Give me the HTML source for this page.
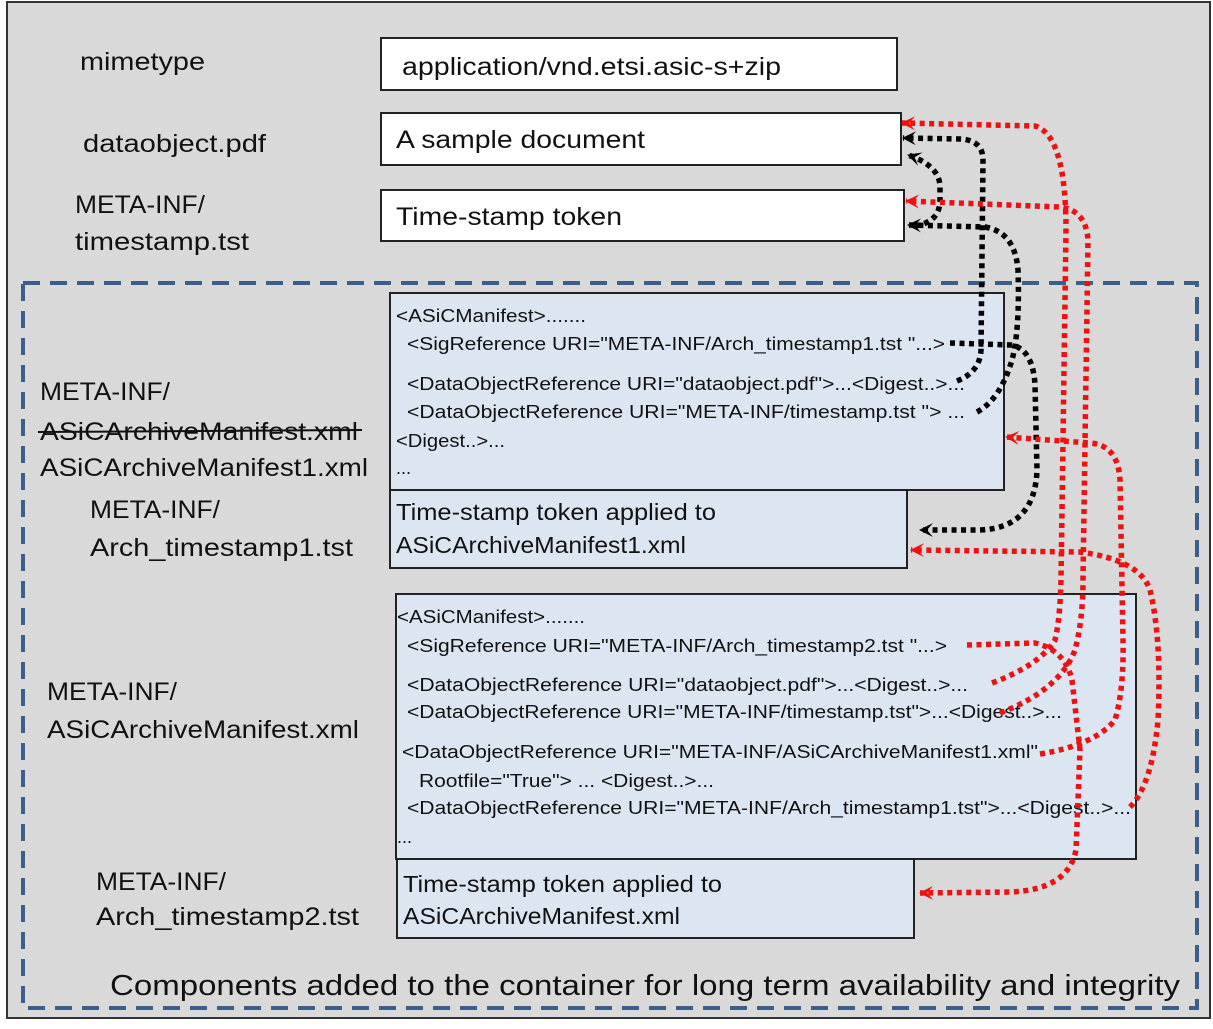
<!DOCTYPE html>
<html><head><meta charset="utf-8"><style>
html,body{margin:0;padding:0;background:#fff;}
svg{display:block;}
text{font-family:"Liberation Sans",sans-serif;fill:#111;}
.big{font-size:25px;}
.mid{font-size:23px;}
.sm{font-size:18px;}
.rd{fill:none;stroke:#ee1111;stroke-width:5.5;stroke-dasharray:5 4.5;}
.bk{fill:none;stroke:#000;stroke-width:5.5;stroke-dasharray:5 4.5;}
</style></head><body>
<svg width="1213" height="1029" viewBox="0 0 1213 1029" xmlns="http://www.w3.org/2000/svg">
<defs>
<marker id="ar" markerWidth="16" markerHeight="16" refX="14" refY="8" orient="auto" markerUnits="userSpaceOnUse" viewBox="0 0 16 16"><path d="M1,1 L15,8 L1,15 L7,8 Z" fill="#ee1111"/></marker>
<marker id="ab" markerWidth="16" markerHeight="16" refX="14" refY="8" orient="auto" markerUnits="userSpaceOnUse" viewBox="0 0 16 16"><path d="M1,1 L15,8 L1,15 L7,8 Z" fill="#000"/></marker>
</defs>
<rect x="0" y="0" width="1213" height="1029" fill="#fff"/>
<rect x="7" y="2" width="1203" height="1016" fill="#d9d9d9" stroke="#333" stroke-width="2"/>
<rect x="23" y="283" width="1174" height="725" fill="none" stroke="#3b5f8c" stroke-width="4" stroke-dasharray="17 10"/>

<rect x="381" y="38" width="516" height="52" fill="#fff" stroke="#222" stroke-width="2"/>
<rect x="381" y="113" width="520" height="52" fill="#fff" stroke="#222" stroke-width="2"/>
<rect x="381" y="190" width="523" height="51" fill="#fff" stroke="#222" stroke-width="2"/>
<text class="big" x="402" y="75" textLength="379" lengthAdjust="spacingAndGlyphs">application/vnd.etsi.asic-s+zip</text>
<text class="big" x="396" y="148" textLength="249" lengthAdjust="spacingAndGlyphs">A sample document</text>
<text class="big" x="396" y="225" textLength="226" lengthAdjust="spacingAndGlyphs">Time-stamp token</text>

<text class="big" x="80" y="70" textLength="125" lengthAdjust="spacingAndGlyphs">mimetype</text>
<text class="big" x="83" y="152" textLength="183" lengthAdjust="spacingAndGlyphs">dataobject.pdf</text>
<text class="big" x="75" y="213" textLength="130" lengthAdjust="spacingAndGlyphs">META-INF/</text>
<text class="big" x="75" y="250" textLength="174" lengthAdjust="spacingAndGlyphs">timestamp.tst</text>

<rect x="390" y="293" width="614" height="197" fill="#dce6f2" stroke="#222" stroke-width="2"/>
<rect x="390" y="490" width="517" height="78" fill="#dce6f2" stroke="#222" stroke-width="2"/>
<text class="sm" x="396" y="322" textLength="190" lengthAdjust="spacingAndGlyphs">&lt;ASiCManifest&gt;.......</text>
<text class="sm" x="407" y="350" textLength="538" lengthAdjust="spacingAndGlyphs">&lt;SigReference URI="META-INF/Arch_timestamp1.tst "...&gt;</text>
<text class="sm" x="407" y="390" textLength="558" lengthAdjust="spacingAndGlyphs">&lt;DataObjectReference URI="dataobject.pdf"&gt;...&lt;Digest..&gt;...</text>
<text class="sm" x="407" y="418" textLength="558" lengthAdjust="spacingAndGlyphs">&lt;DataObjectReference URI="META-INF/timestamp.tst "&gt; ...</text>
<text class="sm" x="396" y="447" textLength="109" lengthAdjust="spacingAndGlyphs">&lt;Digest..&gt;...</text>
<text class="sm" x="396" y="474">...</text>
<text class="mid" x="396" y="520" textLength="320" lengthAdjust="spacingAndGlyphs">Time-stamp token applied to</text>
<text class="mid" x="396" y="553" textLength="290" lengthAdjust="spacingAndGlyphs">ASiCArchiveManifest1.xml</text>

<text class="big" x="40" y="400" textLength="130" lengthAdjust="spacingAndGlyphs">META-INF/</text>
<text class="big" x="40" y="440" textLength="318" lengthAdjust="spacingAndGlyphs">ASiCArchiveManifest.xml</text>
<line x1="38" y1="432" x2="362" y2="430" stroke="#111" stroke-width="2"/>
<text class="big" x="40" y="476" textLength="328" lengthAdjust="spacingAndGlyphs">ASiCArchiveManifest1.xml</text>
<text class="big" x="90" y="518" textLength="130" lengthAdjust="spacingAndGlyphs">META-INF/</text>
<text class="big" x="90" y="556" textLength="263" lengthAdjust="spacingAndGlyphs">Arch_timestamp1.tst</text>

<rect x="396" y="594" width="740" height="265" fill="#dce6f2" stroke="#222" stroke-width="2"/>
<rect x="397" y="859" width="517" height="79" fill="#dce6f2" stroke="#222" stroke-width="2"/>
<text class="sm" x="397" y="623" textLength="188" lengthAdjust="spacingAndGlyphs">&lt;ASiCManifest&gt;.......</text>
<text class="sm" x="407" y="652" textLength="540" lengthAdjust="spacingAndGlyphs">&lt;SigReference URI="META-INF/Arch_timestamp2.tst "...&gt;</text>
<text class="sm" x="407" y="691" textLength="561" lengthAdjust="spacingAndGlyphs">&lt;DataObjectReference URI="dataobject.pdf"&gt;...&lt;Digest..&gt;...</text>
<text class="sm" x="407" y="718" textLength="655" lengthAdjust="spacingAndGlyphs">&lt;DataObjectReference URI="META-INF/timestamp.tst"&gt;...&lt;Digest..&gt;...</text>
<text class="sm" x="402" y="758" textLength="636" lengthAdjust="spacingAndGlyphs">&lt;DataObjectReference URI="META-INF/ASiCArchiveManifest1.xml"</text>
<text class="sm" x="419" y="787" textLength="295" lengthAdjust="spacingAndGlyphs">Rootfile="True"&gt; ... &lt;Digest..&gt;...</text>
<text class="sm" x="407" y="814" textLength="724" lengthAdjust="spacingAndGlyphs">&lt;DataObjectReference URI="META-INF/Arch_timestamp1.tst"&gt;...&lt;Digest..&gt;...</text>
<text class="sm" x="397" y="843">...</text>
<text class="mid" x="403" y="892" textLength="319" lengthAdjust="spacingAndGlyphs">Time-stamp token applied to</text>
<text class="mid" x="403" y="924" textLength="277" lengthAdjust="spacingAndGlyphs">ASiCArchiveManifest.xml</text>

<text class="big" x="47" y="700" textLength="130" lengthAdjust="spacingAndGlyphs">META-INF/</text>
<text class="big" x="47" y="738" textLength="312" lengthAdjust="spacingAndGlyphs">ASiCArchiveManifest.xml</text>
<text class="big" x="96" y="890" textLength="130" lengthAdjust="spacingAndGlyphs">META-INF/</text>
<text class="big" x="96" y="925" textLength="263" lengthAdjust="spacingAndGlyphs">Arch_timestamp2.tst</text>

<text x="110" y="995" style="font-size:29px" textLength="1070" lengthAdjust="spacingAndGlyphs">Components added to the container for long term availability and integrity</text>

<path class="bk" marker-end="url(#ab)" d="M950,343 L1012,345 Q1033,350 1035,385 L1037,470 Q1035,528 980,530 L920,530"/>
<path class="bk" marker-end="url(#ab)" d="M957,381 Q980,372 981,350 L983,160 Q983,140 960,139 L903,138"/>
<path class="bk" marker-end="url(#ab)" d="M977,412 Q1000,400 1012,360 Q1020,330 1018,270 Q1015,232 985,227 L908,225"/>
<path class="bk" marker-end="url(#ab)" d="M915,226 Q940,222 940,200 L940,185 Q938,165 908,155"/>

<path class="rd" marker-end="url(#ar)" d="M992,683 Q1040,665 1055,640 Q1060,620 1061,580 L1066,230 Q1066,135 1035,126 L902,123"/>
<path class="rd" marker-end="url(#ar)" d="M1000,713 Q1060,690 1075,650 Q1083,620 1083,580 L1088,240 Q1086,210 1060,207 L906,201"/>
<path class="rd" marker-end="url(#ar)" d="M1040,754 Q1095,745 1115,720 Q1124,690 1123,640 L1120,480 Q1118,445 1090,443 L1006,437"/>
<path class="rd" marker-end="url(#ar)" d="M1130,807 Q1152,785 1158,720 Q1162,640 1150,590 Q1140,560 1080,552 L911,550"/>
<path class="rd" marker-end="url(#ar)" d="M967,645 L1035,643 Q1065,650 1072,680 L1080,750 L1076,850 Q1068,890 1010,892 L920,893"/>
</svg>
</body></html>
